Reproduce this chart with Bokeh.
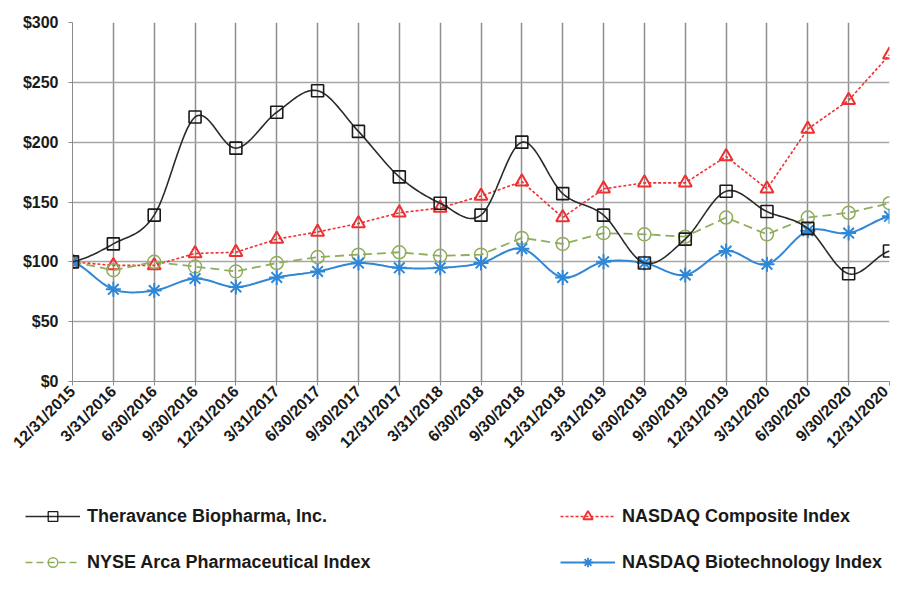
import numpy as np
from bokeh.plotting import figure
from bokeh.models import Range1d, FixedTicker, NumeralTickFormatter, Legend, LegendItem
from bokeh.embed import file_html
from bokeh.resources import INLINE

dates = ["12/31/2015", "3/31/2016", "6/30/2016", "9/30/2016", "12/31/2016",
         "3/31/2017", "6/30/2017", "9/30/2017", "12/31/2017", "3/31/2018",
         "6/30/2018", "9/30/2018", "12/31/2018", "3/31/2019", "6/30/2019",
         "9/30/2019", "12/31/2019", "3/31/2020", "6/30/2020", "9/30/2020",
         "12/31/2020"]
theravance = [100, 115, 139, 221, 195, 225, 243, 209, 171, 149, 139, 200,
              157, 139, 99, 119, 159, 142, 128, 90, 109]
nasdaq_comp = [100, 97, 97, 107, 108, 119, 125, 132, 141, 145, 155, 167,
               137, 161, 166, 166, 188, 161, 211, 235, 273]
nyse_arca = [100, 93, 100, 96, 92, 99, 104, 106, 108, 105, 106, 120,
             115, 124, 123, 121, 137, 123, 137, 141, 149]
nasdaq_bio = [100, 77, 76, 86, 79, 87, 92, 99, 95, 95, 99, 111,
              87, 100, 99, 89, 109, 98, 126, 124, 138]
series_names = ["Theravance Biopharma, Inc.", "NASDAQ Composite Index",
                "NYSE Arca Pharmaceutical Index", "NASDAQ Biotechnology Index"]

FONT = "Liberation Sans"
BLACK, RED, GREEN, BLUE = "#2a2a2a", "#f03030", "#8fae5a", "#2f87d6"


def smooth(ys, steps=16):
    y = np.asarray(ys, dtype=float)
    pts = np.concatenate([[y[0]], y, [y[-1]]])
    xs_out, ys_out = [], []
    t = np.linspace(0, 1, steps, endpoint=False)
    for i in range(len(y) - 1):
        p0, p1, p2, p3 = pts[i], pts[i + 1], pts[i + 2], pts[i + 3]
        yy = 0.5 * (2 * p1 + (-p0 + p2) * t + (2 * p0 - 5 * p1 + 4 * p2 - p3) * t ** 2
                    + (-p0 + 3 * p1 - 3 * p2 + p3) * t ** 3)
        xs_out.extend(i + t)
        ys_out.extend(yy)
    xs_out.append(len(y) - 1)
    ys_out.append(y[-1])
    return xs_out, ys_out


x = list(range(len(dates)))

p = figure(width=891, height=460, output_backend="svg", toolbar_location=None,
           x_range=Range1d(0, len(dates) - 1), y_range=Range1d(0, 300),
           min_border_left=72, min_border_right=2, min_border_top=22,
           min_border_bottom=78)
p.outline_line_color = None
p.background_fill_color = "white"
p.border_fill_color = "white"

p.xaxis.ticker = FixedTicker(ticks=x)
p.xaxis.major_label_overrides = {i: d for i, d in enumerate(dates)}
p.xaxis.major_label_orientation = np.pi / 4
p.yaxis.ticker = FixedTicker(ticks=[0, 50, 100, 150, 200, 250, 300])
p.yaxis.formatter = NumeralTickFormatter(format="$0")
for ax in (p.xaxis, p.yaxis):
    ax.axis_line_color = "#8c8c8c"
    ax.major_tick_line_color = "#8c8c8c"
    ax.major_tick_out = 4
    ax.major_tick_in = 0
    ax.minor_tick_line_color = None
    ax.major_label_text_font = FONT
    ax.major_label_text_font_style = "bold"
    ax.major_label_text_color = "#1a1a1a"
p.xaxis.major_label_text_font_size = "16px"
p.yaxis.major_label_text_font_size = "16px"
p.yaxis.major_label_standoff = 10
p.xaxis.major_label_standoff = 3

p.xgrid.ticker = FixedTicker(ticks=x)
p.xgrid.grid_line_color = "#8f8f8f"
p.xgrid.grid_line_width = 1.5
p.ygrid.grid_line_color = "#a6a6a6"
p.ygrid.grid_line_width = 1.5

# NASDAQ Composite
p.line(x, nasdaq_comp, color=RED, line_width=1.6, line_dash="3 2")
p.scatter(x, nasdaq_comp, marker="triangle", size=13, fill_color=None,
          line_color=RED, line_width=2)
# NYSE Arca
p.line(x, nyse_arca, color=GREEN, line_width=1.8, line_dash="9 5")
p.scatter(x, nyse_arca, marker="circle", size=13, fill_color=None,
          line_color=GREEN, line_width=1.5)
# NASDAQ Biotech
bx, by = smooth(nasdaq_bio)
p.line(bx, by, color=BLUE, line_width=2)
p.scatter(x, nasdaq_bio, marker="asterisk", size=15, line_color=BLUE, line_width=2)
# Theravance
tx, ty = smooth(theravance)
p.line(tx, ty, color=BLACK, line_width=1.6)
p.scatter(x, theravance, marker="square", size=12, fill_color=None,
          line_color="#1a1a1a", line_width=1.6)

# ---- legend panel (separate root, legend proxies lie outside its ranges) ----
lg = figure(width=891, height=114, output_backend="svg", toolbar_location=None,
            x_range=Range1d(-100, -99), y_range=Range1d(-100, -99),
            min_border_left=0, min_border_right=0, min_border_top=0,
            min_border_bottom=0)
lg.axis.visible = False
lg.grid.visible = False
lg.outline_line_color = None

k_l = lg.line(x, theravance, color=BLACK, line_width=1.4)
k_m = lg.scatter(x, theravance, marker="square", fill_color=None,
                 line_color="#1a1a1a", line_width=1.3)
r_l = lg.line(x, nasdaq_comp, color=RED, line_width=1.4, line_dash="3 2")
r_m = lg.scatter(x, nasdaq_comp, marker="triangle", fill_color=None,
                 line_color=RED, line_width=1.8)
g_l = lg.line(x, nyse_arca, color=GREEN, line_width=1.6, line_dash="7 4")
g_m = lg.scatter(x, nyse_arca, marker="circle", fill_color=None,
                 line_color=GREEN, line_width=1.4)
b_l = lg.line(x, nasdaq_bio, color=BLUE, line_width=1.8)
b_m = lg.scatter(x, nasdaq_bio, marker="asterisk", line_color=BLUE,
                 line_width=1.8)

items = [
    LegendItem(label=series_names[0], renderers=[k_l, k_m]),
    LegendItem(label=series_names[2], renderers=[g_l, g_m]),
    LegendItem(label=series_names[1], renderers=[r_l, r_m]),
    LegendItem(label=series_names[3], renderers=[b_l, b_m]),
]
legend = Legend(items=items, location=(25, 0), ncols=2,
                padding=0, margin=0, spacing=22,
                glyph_width=55, glyph_height=24, label_height=18,
                label_standoff=7, label_width=451,
                label_text_font=FONT, label_text_font_style="bold",
                label_text_font_size="18px", label_text_color="#1a1a1a",
                border_line_color=None, background_fill_alpha=0)
lg.add_layout(legend, "center")

open("out.html", "w").write(file_html([p, lg], INLINE))
